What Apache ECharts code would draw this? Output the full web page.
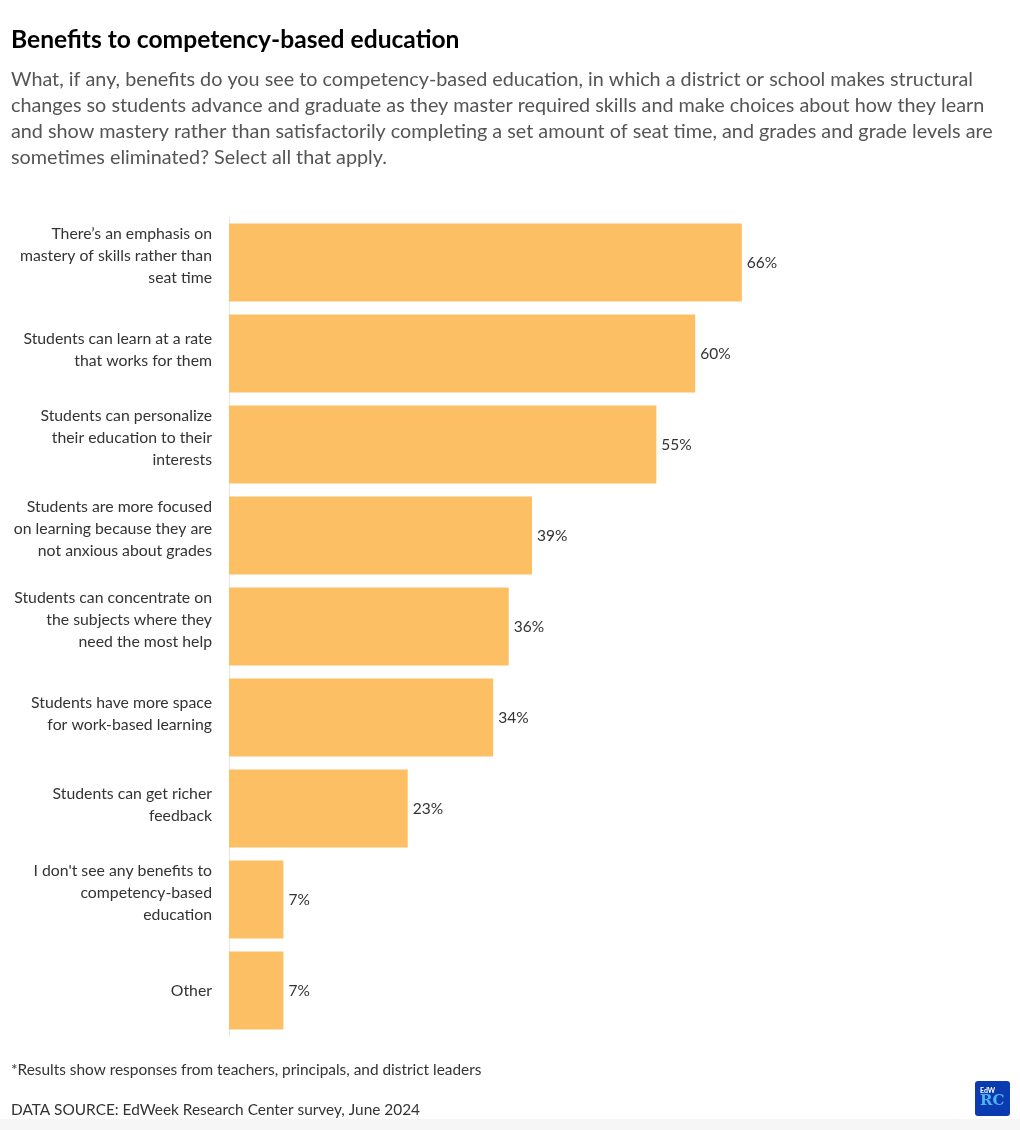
<!DOCTYPE html>
<html><head><meta charset="utf-8">
<script src="https://cdn.jsdelivr.net/npm/echarts@6/dist/echarts.min.js"></script>
<style>html,body{margin:0;padding:0;background:#fff}#c{width:1020px;height:1130px}</style>
</head><body><div id="c"></div>
<script>
const categories = [
  "There\u2019s an emphasis on\nmastery of skills rather than\nseat time",
  "Students can learn at a rate\nthat works for them",
  "Students can personalize\ntheir education to their\ninterests",
  "Students are more focused\non learning because they are\nnot anxious about grades",
  "Students can concentrate on\nthe subjects where they\nneed the most help",
  "Students have more space\nfor work-based learning",
  "Students can get richer\nfeedback",
  "I don't see any benefits to\ncompetency-based\neducation",
  "Other"
];
const values = [66, 60, 55, 39, 36, 34, 23, 7, 7];
const titleText = "Benefits to competency-based education";
const subtitleText = "What, if any, benefits do you see to competency-based education, in which a district or school makes structural\nchanges so students advance and graduate as they master required skills and make choices about how they learn\nand show mastery rather than satisfactorily completing a set amount of seat time, and grades and grade levels are\nsometimes eliminated? Select all that apply.";
const noteText = "*Results show responses from teachers, principals, and district leaders";
const sourceText = "DATA SOURCE: EdWeek Research Center survey, June 2024";

const FONT = "Lato, 'Noto Sans', sans-serif";
const chart = echarts.init(document.getElementById('c'), null, {renderer: 'canvas'});
chart.setOption({
  backgroundColor: '#ffffff',
  animation: false,
  grid: {left: 229, top: 217, width: 777, height: 819, containLabel: false},
  xAxis: {type: 'value', min: 0, max: 100, show: false},
  yAxis: {
    type: 'category', data: categories, inverse: true,
    axisLine: {show: true, lineStyle: {color: '#e6e6e6', width: 1}},
    axisTick: {show: false},
    axisLabel: {
      color: '#333', fontFamily: FONT, fontSize: 15.8, lineHeight: 22, margin: 17, align: 'right',
      formatter: function (v) {
        const n = v.split('\n').length;
        return n > 1 ? v + '\n{p' + (n - 1) + '| }' : v;
      },
      rich: {
        p1: {fontSize: 1, lineHeight: 7, height: 7},
        p2: {fontSize: 1, lineHeight: 14, height: 14}
      }
    }
  },
  series: [{
    type: 'bar', data: values, barWidth: 78,
    itemStyle: {color: '#fdbf63'},
    label: {show: true, position: 'right', distance: 5, formatter: '{c}%', color: '#333', fontFamily: FONT, fontSize: 15.5}
  }],
  graphic: [
    {type: 'text', left: 11, top: 28, style: {text: titleText, font: "bold 24.6px " + FONT, fill: '#000'}},
    {type: 'text', left: 11, top: 66, style: {text: subtitleText, font: "19.8px " + FONT, fill: '#555', lineHeight: 26.3}},
    {type: 'text', left: 11, top: 1063, style: {text: noteText, font: "15.4px " + FONT, fill: '#333'}},
    {type: 'text', left: 11, top: 1103, style: {text: sourceText, font: "15.4px " + FONT, fill: '#333'}},
    {type: 'rect', shape: {x: 0, y: 1119, width: 1020, height: 11}, style: {fill: '#f6f6f6'}},
    {type: 'rect', shape: {x: 975, y: 1081, width: 35, height: 35, r: 3}, style: {fill: '#0b3bb0'}},
    {type: 'text', left: 980, top: 1087, style: {text: 'EdW', font: "bold 7px " + FONT, fill: '#ffffff'}},
    {type: 'text', left: 980, top: 1094, style: {text: 'RC', font: "bold 15px 'DejaVu Serif', serif", fill: '#4fb3f0'}}
  ]
});
</script></body></html>
